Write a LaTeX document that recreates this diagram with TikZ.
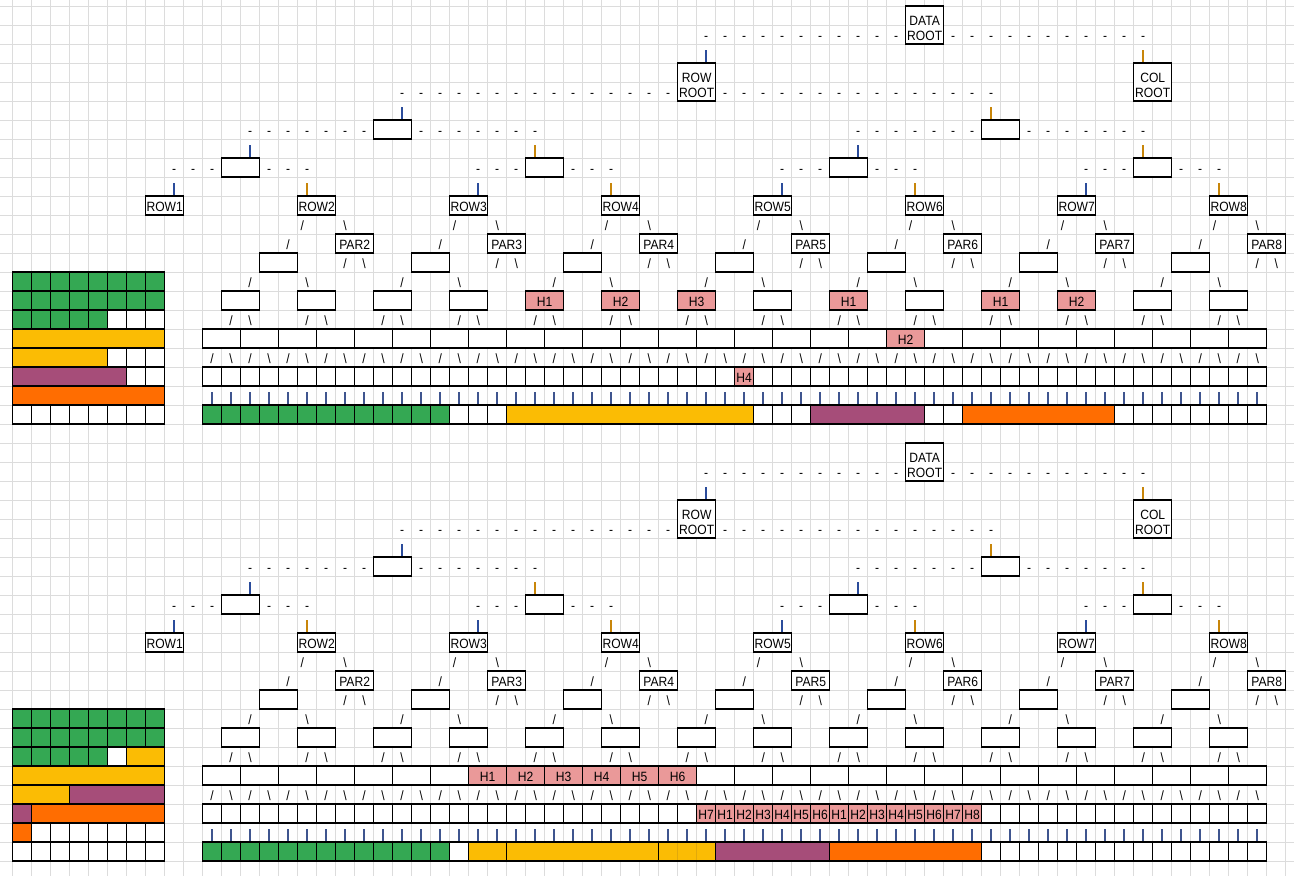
\documentclass[tikz,border=0pt]{standalone}
\usepackage{fontspec}
\setmainfont{Liberation Sans}[FakeStretch=0.9]
\definecolor{gridgray}{HTML}{DCDCDC}
\definecolor{cgreen}{HTML}{34A853}
\definecolor{cyellow}{HTML}{FBBC04}
\definecolor{cpurple}{HTML}{A64D79}
\definecolor{corange}{HTML}{FF6D01}
\definecolor{hpink}{HTML}{EA9999}
\definecolor{barblue}{HTML}{2B4C9B}
\definecolor{barorange}{HTML}{C8860A}
\definecolor{barmix}{HTML}{3F558F}
\definecolor{yline}{HTML}{E2A90A}
\newcommand\cellfont{\fontsize{13.5}{14.5}\selectfont}
\tikzset{
  gridline/.style={draw=gridgray, line width=0.9bp},
  cellbox/.style={draw=black, line width=1.3bp, fill=white, inner sep=0pt, outer sep=0pt,
    anchor=north west, minimum width=19bp, minimum height=19bp, font=\cellfont,
    text height=12.6bp, text depth=0pt},
  wtwo/.style={minimum width=38bp},
  htwo/.style={minimum height=38bp, align=center, text height=30.4bp, text depth=0pt},
  hcell/.style={cellbox, fill=hpink},
  gcell/.style={cellbox, fill=cgreen},
  ycell/.style={cellbox, fill=cyellow},
  pcell/.style={cellbox, fill=cpurple},
  ocell/.style={cellbox, fill=corange},
  glyph/.style={inner sep=0pt, outer sep=0pt, anchor=base, font=\cellfont},
  barbase/.style={inner sep=0pt, outer sep=0pt, anchor=south, minimum width=1.6bp, minimum height=12bp},
  barleft/.style={barbase, fill=barblue},
  barright/.style={barbase, fill=barorange},
  barmid/.style={barbase, fill=barmix}
}
\begin{document}
\begin{tikzpicture}[x=19bp, y=-19bp]
\useasboundingbox (-0.6667,-0.3158) rectangle (67.4368,45.7895);
% spreadsheet grid
\foreach \i in {0,...,67} \draw[gridline] (\i,-0.3158) -- (\i,45.7895);
\foreach \j in {0,...,45} \draw[gridline] (-0.6667,\j) -- (67.4368,\j);

\foreach \o/\s in {0/a,23/b}{
  % level 1
  \node[cellbox,wtwo,htwo] (\s-data) at (47,\o) {DATA\\ROOT};
  \foreach \c in {36,...,46} \node[glyph] (\s-r1-\c) at (\c+0.5,\o+1.8) {-};
  \foreach \c in {49,...,59} \node[glyph] (\s-r1-\c) at (\c+0.5,\o+1.8) {-};
  \node[barleft] (\s-r2-36) at (36.5,\o+2.95) {};
  \node[barright] (\s-r2-59) at (59.5,\o+2.95) {};
  % level 2
  \node[cellbox,wtwo,htwo] (\s-rowroot) at (35,\o+3) {ROW\\ROOT};
  \node[cellbox,wtwo,htwo] (\s-colroot) at (59,\o+3) {COL\\ROOT};
  \foreach \c in {20,...,34} \node[glyph] (\s-r4-\c) at (\c+0.5,\o+4.8) {-};
  \foreach \c in {37,...,51} \node[glyph] (\s-r4-\c) at (\c+0.5,\o+4.8) {-};
  \node[barleft] (\s-r5-20) at (20.5,\o+5.95) {};
  \node[barright] (\s-r5-51) at (51.5,\o+5.95) {};
  % level 3
  \node[cellbox,wtwo] (\s-n6a) at (19,\o+6) {};
  \node[cellbox,wtwo] (\s-n6b) at (51,\o+6) {};
  \foreach \c in {12,...,18} \node[glyph] (\s-r6-\c) at (\c+0.5,\o+6.8) {-};
  \foreach \c in {21,...,27} \node[glyph] (\s-r6-\c) at (\c+0.5,\o+6.8) {-};
  \foreach \c in {44,...,50} \node[glyph] (\s-r6-\c) at (\c+0.5,\o+6.8) {-};
  \foreach \c in {53,...,59} \node[glyph] (\s-r6-\c) at (\c+0.5,\o+6.8) {-};
  \node[barleft] (\s-r7-12) at (12.5,\o+7.95) {};
  \node[barright] (\s-r7-27) at (27.5,\o+7.95) {};
  \node[barleft] (\s-r7-44) at (44.5,\o+7.95) {};
  \node[barright] (\s-r7-59) at (59.5,\o+7.95) {};
  % level 4
  \foreach \b in {11,27,43,59}{
    \node[cellbox,wtwo] (\s-n8-\b) at (\b,\o+8) {};
    \foreach \d in {1,2,3}{
      \node[glyph] (\s-r8l-\b-\d) at (\b-\d+0.5,\o+8.8) {-};
      \node[glyph] (\s-r8r-\b-\d) at (\b+1+\d+0.5,\o+8.8) {-};
    }
    \node[barleft] (\s-r9l-\b) at (\b-2.5,\o+9.95) {};
    \node[barright] (\s-r9r-\b) at (\b+4.5,\o+9.95) {};
  }
  % ROW boxes
  \foreach \k in {1,...,8}{
    \node[cellbox,wtwo] (\s-row\k) at ({8*\k-1},\o+10) {ROW\k};
  }
  % rows 11-14
  \foreach \k in {2,...,8}{
    \pgfmathtruncatemacro\c{8*\k-1}
    \node[glyph] (\s-r11l-\k) at (\c+0.25,\o+11.8) {/};
    \node[glyph] (\s-r11r-\k) at (\c+2.5,\o+11.8) {\textbackslash};
    \node[glyph] (\s-r12-\k) at (\c-0.5,\o+12.8) {/};
    \node[cellbox,wtwo] (\s-par\k) at (\c+2,\o+12) {PAR\k};
    \node[cellbox,wtwo] (\s-n13-\k) at (\c-2,\o+13) {};
    \node[glyph] (\s-r13l-\k) at (\c+2.5,\o+13.8) {/};
    \node[glyph] (\s-r13r-\k) at (\c+3.5,\o+13.8) {\textbackslash};
    \node[glyph] (\s-r14l-\k) at (\c-2.5,\o+14.8) {/};
    \node[glyph] (\s-r14r-\k) at (\c+0.5,\o+14.8) {\textbackslash};
  }
  % row 15
  \foreach \b in {11,15,...,63}{
    \node[cellbox,wtwo] (\s-n15-\b) at (\b,\o+15) {};
    \node[glyph] (\s-r16l-\b) at (\b+0.5,\o+16.8) {/};
    \node[glyph] (\s-r16r-\b) at (\b+1.5,\o+16.8) {\textbackslash};
  }
  % row 17
  \foreach \b in {10,12,...,64}{
    \node[cellbox,wtwo] (\s-n17-\b) at (\b,\o+17) {};
    \node[glyph] (\s-r18l-\b) at (\b+0.5,\o+18.8) {/};
    \node[glyph] (\s-r18r-\b) at (\b+1.5,\o+18.8) {\textbackslash};
  }
  % rows 19-21
  \foreach \b in {10,...,65}{
    \node[cellbox] (\s-n19-\b) at (\b,\o+19) {};
    \node[barmid] (\s-r20-\b) at (\b+0.5,\o+20.95) {};
    \node[cellbox] (\s-n21-\b) at (\b,\o+21) {};
  }
  % left grid white base
  \foreach \r in {14,...,21}{
    \foreach \c in {0,...,7}{
      \node[cellbox] (\s-g-\r-\c) at (\c,\o+\r) {};
    }
  }
  % bottom green cells
  \foreach \c in {10,...,22} \node[gcell] (\s-bg-\c) at (\c,\o+21) {};
  % left green
  \foreach \r in {14,15}{
    \foreach \c in {0,...,7} \node[gcell] (\s-lg-\r-\c) at (\c,\o+\r) {};
  }
  \foreach \c in {0,...,4} \node[gcell] (\s-lg-16-\c) at (\c,\o+16) {};
}

% ---------- top section specifics ----------
\node[ycell,minimum width=152bp] (a-y17) at (0,17) {};
\node[ycell,minimum width=95bp] (a-y18) at (0,18) {};
\node[pcell,minimum width=114bp] (a-p19) at (0,19) {};
\node[ocell,minimum width=152bp] (a-o20) at (0,20) {};
\node[ycell,minimum width=247bp] (a-by) at (26,21) {};
\node[pcell,minimum width=114bp] (a-bp) at (42,21) {};
\node[ocell,minimum width=152bp] (a-bo) at (50,21) {};
\node[hcell,wtwo] (a-h15-27) at (27,15) {H1};
\node[hcell,wtwo] (a-h15-31) at (31,15) {H2};
\node[hcell,wtwo] (a-h15-35) at (35,15) {H3};
\node[hcell,wtwo] (a-h15-43) at (43,15) {H1};
\node[hcell,wtwo] (a-h15-51) at (51,15) {H1};
\node[hcell,wtwo] (a-h15-55) at (55,15) {H2};
\node[hcell,wtwo] (a-h17-46) at (46,17) {H2};
\node[hcell] (a-h19-38) at (38,19) {H4};

% ---------- bottom section specifics ----------
\node[ycell,minimum width=38bp] (b-y39) at (6,39) {};
\node[ycell,minimum width=152bp] (b-y40) at (0,40) {};
\node[ycell,minimum width=57bp] (b-y41) at (0,41) {};
\node[pcell,minimum width=95bp] (b-p41) at (3,41) {};
\node[pcell] (b-p42) at (0,42) {};
\node[ocell,minimum width=133bp] (b-o42) at (1,42) {};
\node[ocell] (b-o43) at (0,43) {};
\node[ycell,minimum width=38bp] (b-by1) at (24,44) {};
\node[ycell,minimum width=152bp] (b-by2) at (26,44) {};
\node[ycell,minimum width=57bp] (b-by3) at (34,44) {};
\draw[yline,line width=0.9bp] (35,44.05) -- (35,44.95) (36,44.05) -- (36,44.95);
\node[pcell,minimum width=114bp] (b-bp) at (37,44) {};
\node[ocell,minimum width=152bp] (b-bo) at (43,44) {};
\foreach \c/\t in {24/H1,26/H2,28/H3,30/H4,32/H5,34/H6}
  \node[hcell,wtwo] (b-h40-\c) at (\c,40) {\t};
\foreach \c/\t in {36/H7,37/H1,38/H2,39/H3,40/H4,41/H5,42/H6,43/H1,44/H2,45/H3,46/H4,47/H5,48/H6,49/H7,50/H8}
  \node[hcell] (b-h42-\c) at (\c,42) {\t};
\end{tikzpicture}
\end{document}
